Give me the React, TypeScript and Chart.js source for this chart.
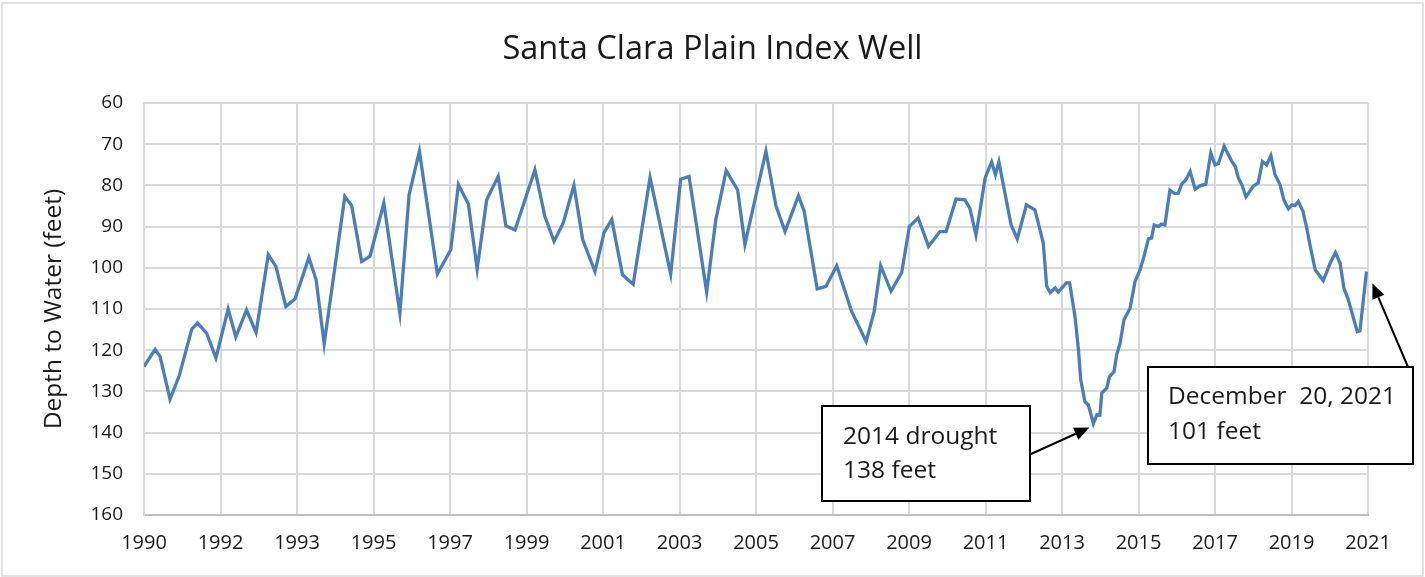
import React, { useEffect, useRef } from 'react';
import { Chart, registerables } from 'chart.js';

Chart.register(...registerables);

const TITLE = 'Santa Clara Plain Index Well';
const Y_TITLE = 'Depth to Water (feet)';
const FONT = '"Open Sans", "Noto Sans", sans-serif';

// Axis ticks: 17 equally spaced gridlines (axis spans 1990 -> 2022 in decimal years)
const xTickLabels = ['1990', '1992', '1993', '1995', '1997', '1999', '2001', '2003', '2005', '2007', '2009', '2011', '2013', '2015', '2017', '2019', '2021'];
const xMin = 1990;
const xMax = 2022;
const yMin = 60;
const yMax = 160;
const yStep = 10;

// Measurement dates (decimal years on the axis) and depth to water (feet)
const dates = [
  1990.0, 1990.29, 1990.42, 1990.68, 1990.92, 1991.25, 1991.4, 1991.64, 1991.88, 1992.2,
  1992.4, 1992.68, 1992.93, 1993.25, 1993.45, 1993.71, 1993.95, 1994.31, 1994.5, 1994.71,
  1995.25, 1995.43, 1995.69, 1995.91, 1996.27, 1996.69, 1996.93, 1997.2, 1997.67, 1998.02,
  1998.22, 1998.48, 1998.71, 1998.96, 1999.26, 1999.46, 1999.7, 2000.22, 2000.48, 2000.72,
  2000.96, 2001.24, 2001.47, 2001.79, 2002.03, 2002.23, 2002.51, 2002.79, 2003.23, 2003.77,
  2004.03, 2004.25, 2004.71, 2004.95, 2005.22, 2005.52, 2005.71, 2006.26, 2006.52, 2006.76,
  2007.11, 2007.26, 2007.6, 2007.83, 2008.11, 2008.5, 2008.88, 2009.09, 2009.26, 2009.53,
  2009.81, 2010.01, 2010.24, 2010.51, 2010.81, 2010.97, 2011.23, 2011.46, 2011.59, 2011.75,
  2011.86, 2011.99, 2012.16, 2012.26, 2012.35, 2012.67, 2012.83, 2013.07, 2013.29, 2013.38,
  2013.51, 2013.6, 2013.69, 2013.82, 2013.9, 2014.12, 2014.2, 2014.34, 2014.43, 2014.49,
  2014.6, 2014.69, 2014.82, 2014.91, 2014.99, 2015.04, 2015.17, 2015.24, 2015.36, 2015.43,
  2015.52, 2015.62, 2015.78, 2015.91, 2016.04, 2016.13, 2016.26, 2016.34, 2016.41, 2016.52,
  2016.6, 2016.69, 2016.82, 2016.95, 2017.04, 2017.13, 2017.24, 2017.35, 2017.48, 2017.61,
  2017.76, 2017.89, 2018.0, 2018.09, 2018.24, 2018.44, 2018.53, 2018.61, 2018.7, 2018.81,
  2019.0, 2019.13, 2019.24, 2019.35, 2019.46, 2019.57, 2019.7, 2019.8, 2019.92, 2020.01,
  2020.09, 2020.18, 2020.3, 2020.4, 2020.49, 2020.62, 2020.83, 2021.01, 2021.15, 2021.27,
  2021.37, 2021.48, 2021.72, 2021.79, 2021.96,
];

const depths = [
  124.0, 119.8, 121.5, 131.9, 126.2, 114.9, 113.4, 115.9, 121.9, 110.0,
  116.8, 110.2, 115.7, 96.8, 99.7, 109.4, 107.5, 97.5, 102.9, 118.5,
  82.7, 84.9, 98.5, 97.2, 84.3, 111.0, 82.3, 71.7, 101.5, 95.6,
  79.8, 84.5, 100.3, 83.5, 77.8, 89.8, 90.8, 76.2, 87.5, 93.6,
  89.1, 80.0, 93.2, 100.9, 91.4, 88.3, 101.7, 104.0, 78.1, 101.5,
  78.5, 77.8, 105.9, 88.3, 76.4, 81.1, 94.3, 71.7, 84.9, 91.2,
  82.5, 86.3, 105.1, 104.5, 99.5, 110.6, 117.9, 110.6, 99.5, 105.7,
  101.1, 90.0, 87.9, 94.8, 91.2, 91.2, 83.3, 83.5, 85.5, 92.0,
  85.9, 78.2, 74.3, 77.4, 74.3, 89.6, 93.0, 84.7, 85.9, 89.1,
  94.0, 104.5, 106.0, 104.9, 105.9, 103.6, 103.7, 111.8, 119.9, 127.2,
  132.5, 133.3, 137.8, 135.7, 135.8, 130.4, 129.2, 126.4, 125.2, 121.1,
  118.3, 112.6, 109.8, 103.3, 100.5, 97.7, 93.0, 92.8, 89.6, 90.0,
  89.4, 89.6, 81.2, 82.0, 81.9, 79.7, 78.6, 76.6, 80.9, 80.1,
  79.7, 72.1, 75.0, 74.7, 70.5, 74.2, 75.4, 78.2, 79.8, 82.8,
  80.2, 79.4, 74.2, 75.0, 72.8, 77.4, 79.8, 83.5, 85.7, 84.7,
  84.9, 83.9, 86.3, 90.4, 94.8, 100.5, 103.1, 98.9, 96.3, 98.9,
  104.9, 107.6, 115.5, 115.3, 100.9,
];

const note1Lines = ['2014 drought', '138 feet'];
const note2Lines = ['December  20, 2021', '101 feet'];

function drawArrow(ctx: CanvasRenderingContext2D, x0: number, y0: number, x1: number, y1: number) {
  const ang = Math.atan2(y1 - y0, x1 - x0);
  const headLen = 15;
  const headHalf = 6.5;
  const bx = x1 - headLen * Math.cos(ang);
  const by = y1 - headLen * Math.sin(ang);
  ctx.save();
  ctx.strokeStyle = '#000';
  ctx.fillStyle = '#000';
  ctx.lineWidth = 2;
  ctx.beginPath();
  ctx.moveTo(x0, y0);
  ctx.lineTo(bx, by);
  ctx.stroke();
  ctx.beginPath();
  ctx.moveTo(x1, y1);
  ctx.lineTo(bx + headHalf * Math.sin(ang), by - headHalf * Math.cos(ang));
  ctx.lineTo(bx - headHalf * Math.sin(ang), by + headHalf * Math.cos(ang));
  ctx.closePath();
  ctx.fill();
  ctx.restore();
}

function drawBox(ctx: CanvasRenderingContext2D, x: number, y: number, w: number, h: number, lines: string[], tx: number, ty: number, lh: number) {
  ctx.save();
  ctx.fillStyle = '#fff';
  ctx.fillRect(x, y, w, h);
  ctx.strokeStyle = '#000';
  ctx.lineWidth = 2;
  ctx.strokeRect(x, y, w, h);
  ctx.fillStyle = '#1a1a1a';
  ctx.font = `24.5px ${FONT}`;
  ctx.textBaseline = 'middle';
  ctx.textAlign = 'left';
  lines.forEach((t, i) => ctx.fillText(t, tx, ty + i * lh));
  ctx.restore();
}

const decorPlugin = {
  id: 'decor',
  beforeDraw(chart: any) {
    const ctx = chart.ctx as CanvasRenderingContext2D;
    ctx.save();
    ctx.fillStyle = '#fff';
    ctx.fillRect(0, 0, chart.width, chart.height);
    ctx.strokeStyle = '#d9d9d9';
    ctx.lineWidth = 1.5;
    ctx.strokeRect(2, 3, chart.width - 4, chart.height - 4);
    ctx.restore();
  },
  afterDraw(chart: any) {
    const ctx = chart.ctx as CanvasRenderingContext2D;
    const xs = chart.scales.x;
    const ys = chart.scales.y;
    let mi = 0;
    depths.forEach((d, i) => {
      if (d > depths[mi]) mi = i;
    });
    const last = depths.length - 1;
    const minX = xs.getPixelForValue(dates[mi]);
    const minY = ys.getPixelForValue(depths[mi]);
    const lastX = xs.getPixelForValue(dates[last]);
    const lastY = ys.getPixelForValue(depths[last]);

    drawBox(ctx, 822, 406, 208, 95, note1Lines, 843, 437, 34);
    drawArrow(ctx, 1031, 454, minX - 4, minY + 4);

    drawBox(ctx, 1148, 367, 265, 97, note2Lines, 1168, 397, 35);
    drawArrow(ctx, 1408, 367, lastX + 6, lastY + 12);
  },
};

export default function App() {
  const ref = useRef<HTMLCanvasElement | null>(null);
  useEffect(() => {
    if (!ref.current) return;
    const chart = new Chart(ref.current, {
      type: 'line',
      data: {
        datasets: [
          {
            data: dates.map((d, i) => ({ x: d, y: depths[i] })),
            borderColor: '#4a7ebb',
            borderWidth: 3.3,
            pointRadius: 0,
            tension: 0,
            fill: false,
            yAxisID: 'y',
          },
        ],
      },
      options: {
        animation: false,
        responsive: false,
        maintainAspectRatio: false,
        layout: { padding: 0 },
        plugins: {
          legend: { display: false },
          tooltip: { enabled: false },
          title: {
            display: true,
            text: TITLE,
            color: '#1a1a1a',
            font: { family: FONT, size: 32.5, weight: 'normal' },
            padding: { top: 30, bottom: 34 },
          },
        },
        scales: {
          x: {
            type: 'linear',
            min: xMin,
            max: xMax,
            afterBuildTicks: (scale: any) => {
              scale.ticks = xTickLabels.map((_, i) => ({ value: xMin + ((xMax - xMin) / (xTickLabels.length - 1)) * i }));
            },
            afterFit: (scale: any) => {
              scale.height = 62;
            },
            ticks: {
              autoSkip: false,
              maxRotation: 0,
              padding: 16,
              color: '#1a1a1a',
              font: { family: FONT, size: 20 },
              callback: (_v: any, i: number) => xTickLabels[i],
            },
            grid: { color: '#d9d9d9', lineWidth: 2, drawTicks: false },
            border: { color: '#bfbfbf', width: 2 },
          },
          y: {
            type: 'linear',
            position: 'left',
            reverse: true,
            min: yMin,
            max: yMax,
            afterFit: (scale: any) => {
              scale.width = 144;
            },
            ticks: {
              stepSize: yStep,
              padding: 21,
              color: '#1a1a1a',
              font: { family: FONT, size: 19 },
            },
            title: {
              display: true,
              text: Y_TITLE,
              color: '#1a1a1a',
              font: { family: FONT, size: 24.5 },
              padding: { top: 39, bottom: 0 },
            },
            grid: { color: '#d9d9d9', lineWidth: 2, drawTicks: false },
            border: { color: '#d9d9d9', width: 2 },
          },
          yRight: {
            type: 'linear',
            position: 'right',
            min: yMin,
            max: yMax,
            afterFit: (scale: any) => {
              scale.width = 57;
            },
            ticks: { display: false },
            grid: { display: false, drawTicks: false },
            border: { display: false },
          },
        },
      },
      plugins: [decorPlugin],
    } as any);
    return () => chart.destroy();
  }, []);
  return (
    <div style={{ position: 'fixed', left: 0, top: 0, width: 1425, height: 577, background: '#fff' }}>
      <canvas ref={ref} width={1425} height={577} style={{ width: 1425, height: 577, display: 'block' }} />
    </div>
  );
}
